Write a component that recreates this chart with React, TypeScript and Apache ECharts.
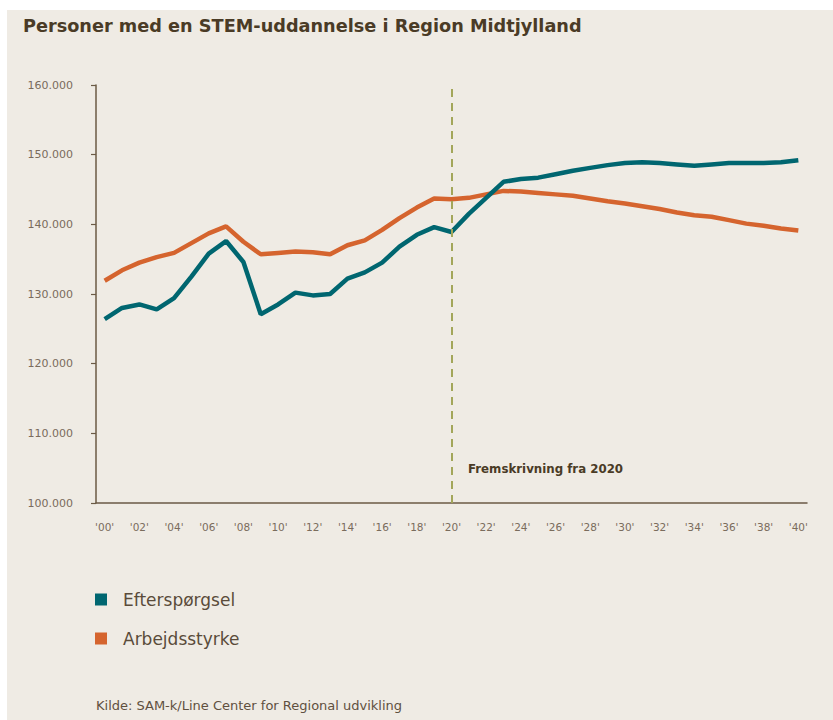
import React, { useEffect, useRef } from "react";
import * as echarts from "echarts";

const years: string[] = [];
for (let y = 0; y <= 40; y++) years.push("'" + String(y).padStart(2, "0") + "'");

const efterspoergsel = [
  126.4, 128.0, 128.5, 127.8, 129.4, 132.5, 135.8, 137.6, 134.6, 127.1,
  128.5, 130.2, 129.8, 130.0, 132.2, 133.1, 134.5, 136.8, 138.5, 139.6,
  138.9, 141.5, 143.8, 146.1, 146.5, 146.7, 147.2, 147.7, 148.1, 148.5,
  148.8, 148.9, 148.8, 148.6, 148.4, 148.6, 148.8, 148.8, 148.8, 148.9,
  149.2,
].map((v) => Math.round(v * 1000));

const arbejdsstyrke = [
  131.9, 133.4, 134.5, 135.3, 135.9, 137.3, 138.7, 139.7, 137.5, 135.7,
  135.9, 136.1, 136.0, 135.7, 137.0, 137.7, 139.2, 140.9, 142.4, 143.7,
  143.6, 143.8, 144.3, 144.8, 144.7, 144.5, 144.3, 144.1, 143.7, 143.3,
  143.0, 142.6, 142.2, 141.7, 141.3, 141.1, 140.6, 140.1, 139.8, 139.4,
  139.1,
].map((v) => Math.round(v * 1000));

const seriesNames = ["Efterspørgsel", "Arbejdsstyrke"];
const colors = ["#006670", "#d5642e"];
const titleText = "Personer med en STEM-uddannelse i Region Midtjylland";
const sourceText = "Kilde: SAM-k/Line Center for Regional udvikling";
const annotationText = "Fremskrivning fra 2020";
const forecastStart = "'20'";

const fmt = (v: number) => String(v).replace(/\B(?=(\d{3})+(?!\d))/g, ".");

export default function App() {
  const ref = useRef<HTMLDivElement>(null);
  useEffect(() => {
    document.body.style.margin = "0";
    const chart = echarts.init(ref.current!, undefined, { renderer: "svg" });
    const textColor = "#7a6c5c";
    const axisColor = "#6b5a45";
    const font = "DejaVu Sans";
    chart.setOption({
      animation: false,
      backgroundColor: "#ffffff",
      textStyle: { fontFamily: font },
      graphic: [
        {
          type: "rect",
          z: -10,
          silent: true,
          shape: { x: 7, y: 10, width: 826, height: 710 },
          style: { fill: "#efebe4" },
        },
        {
          type: "text",
          left: 468,
          top: 463,
          style: {
            text: annotationText,
            fill: "#4a3b26",
            font: "bold 11.8px 'DejaVu Sans'",
          },
        },
        {
          type: "text",
          left: 96,
          top: 699,
          style: {
            text: sourceText,
            fill: "#5f5040",
            font: "13px 'DejaVu Sans'",
          },
        },
      ],
      title: {
        text: titleText,
        left: 18,
        top: 12,
        textStyle: {
          fontFamily: font,
          fontWeight: "bold",
          fontSize: 17.7,
          color: "#4a3b26",
        },
      },
      legend: {
        orient: "vertical",
        left: 95,
        top: 591,
        padding: 0,
        itemWidth: 12,
        itemHeight: 12,
        itemGap: 22,
        icon: "rect",
        data: seriesNames,
        textStyle: {
          fontSize: 17,
          color: "#5a4b3a",
          padding: [0, 0, 0, 11],
          fontFamily: font,
        },
      },
      grid: { left: 96, right: 26, top: 85, bottom: 217, containLabel: false },
      xAxis: {
        type: "category",
        data: years,
        boundaryGap: true,
        axisLine: { lineStyle: { color: axisColor, width: 1.5 } },
        axisTick: { interval: 0, length: 4, lineStyle: { color: axisColor, width: 1.2 } },
        axisLabel: { interval: 1, margin: 18, fontSize: 10.5, color: textColor },
        splitLine: { show: false },
      },
      yAxis: {
        type: "value",
        min: 100000,
        max: 160000,
        interval: 10000,
        axisLine: { show: true, lineStyle: { color: axisColor, width: 1.5 } },
        axisTick: { show: true, length: 5, lineStyle: { color: axisColor, width: 1.2 } },
        axisLabel: { margin: 23, fontSize: 11, color: textColor, formatter: fmt },
        splitLine: { show: false },
      },
      series: [
        {
          name: seriesNames[0],
          type: "line",
          data: efterspoergsel,
          showSymbol: false,
          color: colors[0],
          lineStyle: { width: 4.5, color: colors[0] },
          z: 3,
          markLine: {
            silent: true,
            symbol: "none",
            label: { show: false },
            lineStyle: { type: [8, 6], color: "#a3a65a", width: 2 },
            data: [{ xAxis: forecastStart }],
          },
        },
        {
          name: seriesNames[1],
          type: "line",
          data: arbejdsstyrke,
          showSymbol: false,
          color: colors[1],
          lineStyle: { width: 4.5, color: colors[1] },
          z: 2,
        },
      ],
    });
    return () => chart.dispose();
  }, []);
  return <div ref={ref} style={{ width: 833, height: 720 }} />;
}
